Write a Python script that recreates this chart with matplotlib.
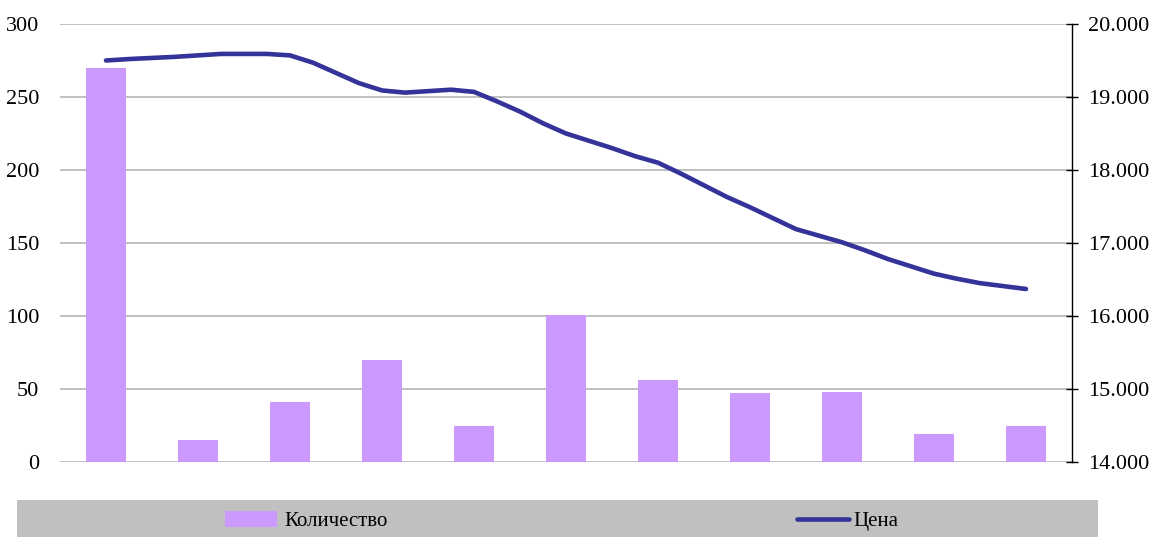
import numpy as np
from matplotlib import pyplot as plt
from matplotlib.patches import Rectangle
from matplotlib.ticker import FuncFormatter

# bars: quantity per period (left axis)
quantity = [270, 15, 41, 70, 25, 101, 56, 47, 48, 19, 25]
# line: price, four readings per period (right axis)
price = [19500, 19520, 19535, 19550, 19570, 19590, 19590, 19590, 19570, 19470,
         19330, 19190, 19090, 19060, 19080, 19100, 19070, 18940, 18800, 18640,
         18500, 18400, 18300, 18190, 18100, 17950, 17790, 17630, 17490, 17340,
         17190, 17100, 17010, 16900, 16780, 16680, 16580, 16510, 16450, 16410,
         16370]
labels = ["Количество", "Цена"]

BAR_COLOR = "#CC99FF"
LINE_COLOR = "#333399"
GRID_COLOR = "#C0C0C0"

plt.rcParams["font.family"] = ["Liberation Serif", "DejaVu Serif"]
plt.rcParams["font.size"] = 15

W, H = 1154, 537
fig = plt.figure(figsize=(W / 100, H / 100), dpi=100)
ax = fig.add_axes([60 / W, (H - 462) / H, 1012 / W, 438 / H])

x_bar = np.arange(len(quantity))
bars = ax.bar(x_bar, quantity, width=0.43, color=BAR_COLOR, zorder=2)
ax.set_xlim(-0.5, len(quantity) - 0.5)
ax.set_ylim(0, 300)
ax.set_yticks(range(0, 301, 50))
ax.set_xticks([])
ax.grid(axis="y", color=GRID_COLOR, lw=1.4, zorder=0)
ax.set_axisbelow(True)
for s in ax.spines.values():
    s.set_visible(False)
ax.tick_params(axis="y", length=0, pad=15, labelsize=16)

ax2 = ax.twinx()
x_line = np.arange(len(price)) / 4
line, = ax2.plot(x_line, price, color=LINE_COLOR, lw=3.3, solid_capstyle="round",
                 solid_joinstyle="round", zorder=3)
ax2.set_ylim(14000, 20000)
ax2.set_yticks(range(14000, 20001, 1000))
ax2.yaxis.set_major_formatter(FuncFormatter(lambda v, p: f"{v:,.0f}".replace(",", ".")))
for name, s in ax2.spines.items():
    s.set_visible(name == "right")
ax2.spines["right"].set_color("black")
ax2.spines["right"].set_linewidth(1.0)
ax2.tick_params(axis="y", direction="inout", length=9, width=1.0, pad=7, labelsize=16)

# grey legend band
fig.patches.append(Rectangle((17 / W, 0), (1098 - 17) / W, 37 / H, transform=fig.transFigure,
                             facecolor="#C0C0C0", edgecolor="none", zorder=0))
yc = (H - 521) / H
fig.legend([bars], [labels[0]], loc="center left", bbox_to_anchor=(225 / W, yc),
           frameon=False, borderpad=0, borderaxespad=0, handlelength=2.5,
           handleheight=0.85, handletextpad=0.35, fontsize=15)
fig.legend([line], [labels[1]], loc="center left", bbox_to_anchor=(797 / W, yc),
           frameon=False, borderpad=0, borderaxespad=0, handlelength=2.5,
           handletextpad=0.2, fontsize=15)

plt.savefig("out.png", dpi=100)
